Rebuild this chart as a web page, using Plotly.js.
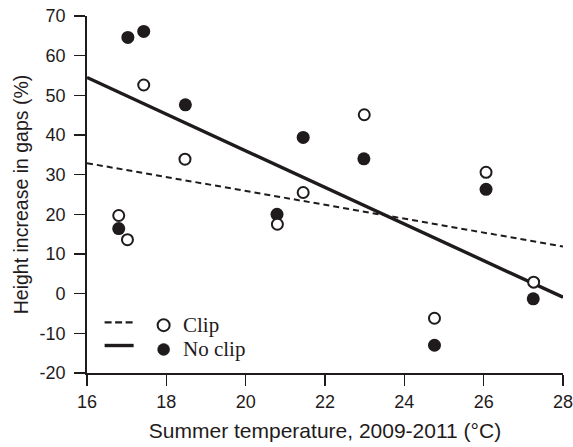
<!DOCTYPE html>
<html>
<head>
<meta charset="utf-8">
<script src="https://cdn.plot.ly/plotly-3.0.1.min.js"></script>
<style>
  html, body { margin: 0; padding: 0; background: #fff; }
  #chart { width: 573px; height: 447px; }
</style>
</head>
<body>
<div id="chart"></div>
<script>
// Summer temperature (°C) for each site
const tempClip   = [16.80, 17.02, 17.43, 18.47, 20.80, 21.45, 22.99, 24.76, 26.06, 27.26];
const heightClip = [19.7, 13.6, 52.6, 33.9, 17.5, 25.5, 45.1, -6.2, 30.6, 2.9];

const tempNoClip   = [16.80, 17.03, 17.43, 18.48, 20.79, 21.45, 22.98, 24.76, 26.06, 27.25];
const heightNoClip = [16.4, 64.6, 66.1, 47.6, 20.0, 39.4, 34.0, -13.0, 26.3, -1.3];

// Fitted regression lines, evaluated at the ends of the temperature range
const fitTemp   = [16, 28];
const fitClip   = [32.9, 11.9];
const fitNoClip = [54.5, -0.9];

const xTicks = [16, 18, 20, 22, 24, 26, 28];
const yTicks = [-20, -10, 0, 10, 20, 30, 40, 50, 60, 70];

const ink = '#1f1b1c';

const traces = [
  { x: fitTemp, y: fitClip, mode: 'lines', name: 'Clip fit',
    line: { color: ink, width: 2, dash: '6px,4px' }, cliponaxis: false, hoverinfo: 'skip' },
  { x: fitTemp, y: fitNoClip, mode: 'lines', name: 'No clip fit',
    line: { color: ink, width: 3.4 }, cliponaxis: false, hoverinfo: 'skip' },
  { x: tempNoClip, y: heightNoClip, mode: 'markers', name: 'No clip',
    marker: { symbol: 'circle', size: 13, color: ink, line: { width: 0 } }, cliponaxis: false },
  { x: tempClip, y: heightClip, mode: 'markers', name: 'Clip',
    marker: { symbol: 'circle', size: 11, color: '#ffffff', line: { width: 2, color: ink } }, cliponaxis: false }
];

// Hand-drawn key: line sample, marker glyph and label for each treatment
const keyLineX0 = 0.037, keyLineX1 = 0.098, keyDotX = 0.161, keyTextX = 0.198;
const keyRows = [
  { y: 0.134, lineY: 0.142, dash: '7px,3.5px', width: 2.3, fill: '#ffffff', stroke: 2, label: 'Clip' },
  { y: 0.066, lineY: 0.077, dash: 'solid', width: 3.4, fill: ink, stroke: 0, label: 'No clip' }
];
const shapes = [];
const annotations = [];
keyRows.forEach(r => {
  shapes.push({ type: 'line', xref: 'paper', yref: 'paper',
    x0: keyLineX0, x1: keyLineX1, y0: r.lineY, y1: r.lineY,
    line: { color: ink, width: r.width, dash: r.dash } });
  shapes.push({ type: 'circle', xref: 'paper', yref: 'paper',
    xsizemode: 'pixel', ysizemode: 'pixel', xanchor: keyDotX, yanchor: r.y,
    x0: -6, x1: 6, y0: -6, y1: 6,
    fillcolor: r.fill, line: { color: ink, width: r.stroke === 0 ? 0.5 : r.stroke } });
  annotations.push({ xref: 'paper', yref: 'paper', x: keyTextX, y: r.y,
    xanchor: 'left', yanchor: 'middle', showarrow: false, text: r.label,
    font: { family: 'Liberation Serif, Times New Roman, serif', size: 21, color: ink } });
});

const layout = {
  width: 573, height: 447,
  margin: { l: 87, r: 10, t: 16, b: 74, pad: 0 },
  paper_bgcolor: '#ffffff', plot_bgcolor: '#ffffff',
  showlegend: false,
  font: { family: 'Liberation Sans, Arial, sans-serif', color: ink },
  xaxis: {
    range: [16, 28], tickvals: xTicks, ticktext: xTicks.map(String),
    showgrid: false, zeroline: false, showline: true, linecolor: ink, linewidth: 1.8,
    ticks: 'outside', ticklen: 11, tickwidth: 1.5, tickcolor: ink,
    tickfont: { size: 18, color: ink }, ticklabelstandoff: 1, ticklabeloverflow: 'allow',
    title: { text: 'Summer temperature, 2009-2011 (°C)', font: { size: 21, color: ink }, standoff: 12 }
  },
  yaxis: {
    range: [-20, 70], tickvals: yTicks, ticktext: yTicks.map(String),
    showgrid: false, zeroline: false, showline: true, linecolor: ink, linewidth: 1.8,
    ticks: 'outside', ticklen: 11, tickwidth: 1.5, tickcolor: ink,
    tickfont: { size: 18, color: ink }, ticklabelstandoff: 5, ticklabeloverflow: 'allow',
    title: { text: 'Height increase in gaps (%)', font: { size: 19.5, color: ink }, standoff: 6 }
  },
  shapes: shapes,
  annotations: annotations
};

Plotly.newPlot('chart', traces, layout, { displayModeBar: false, staticPlot: true });
</script>
</body>
</html>
